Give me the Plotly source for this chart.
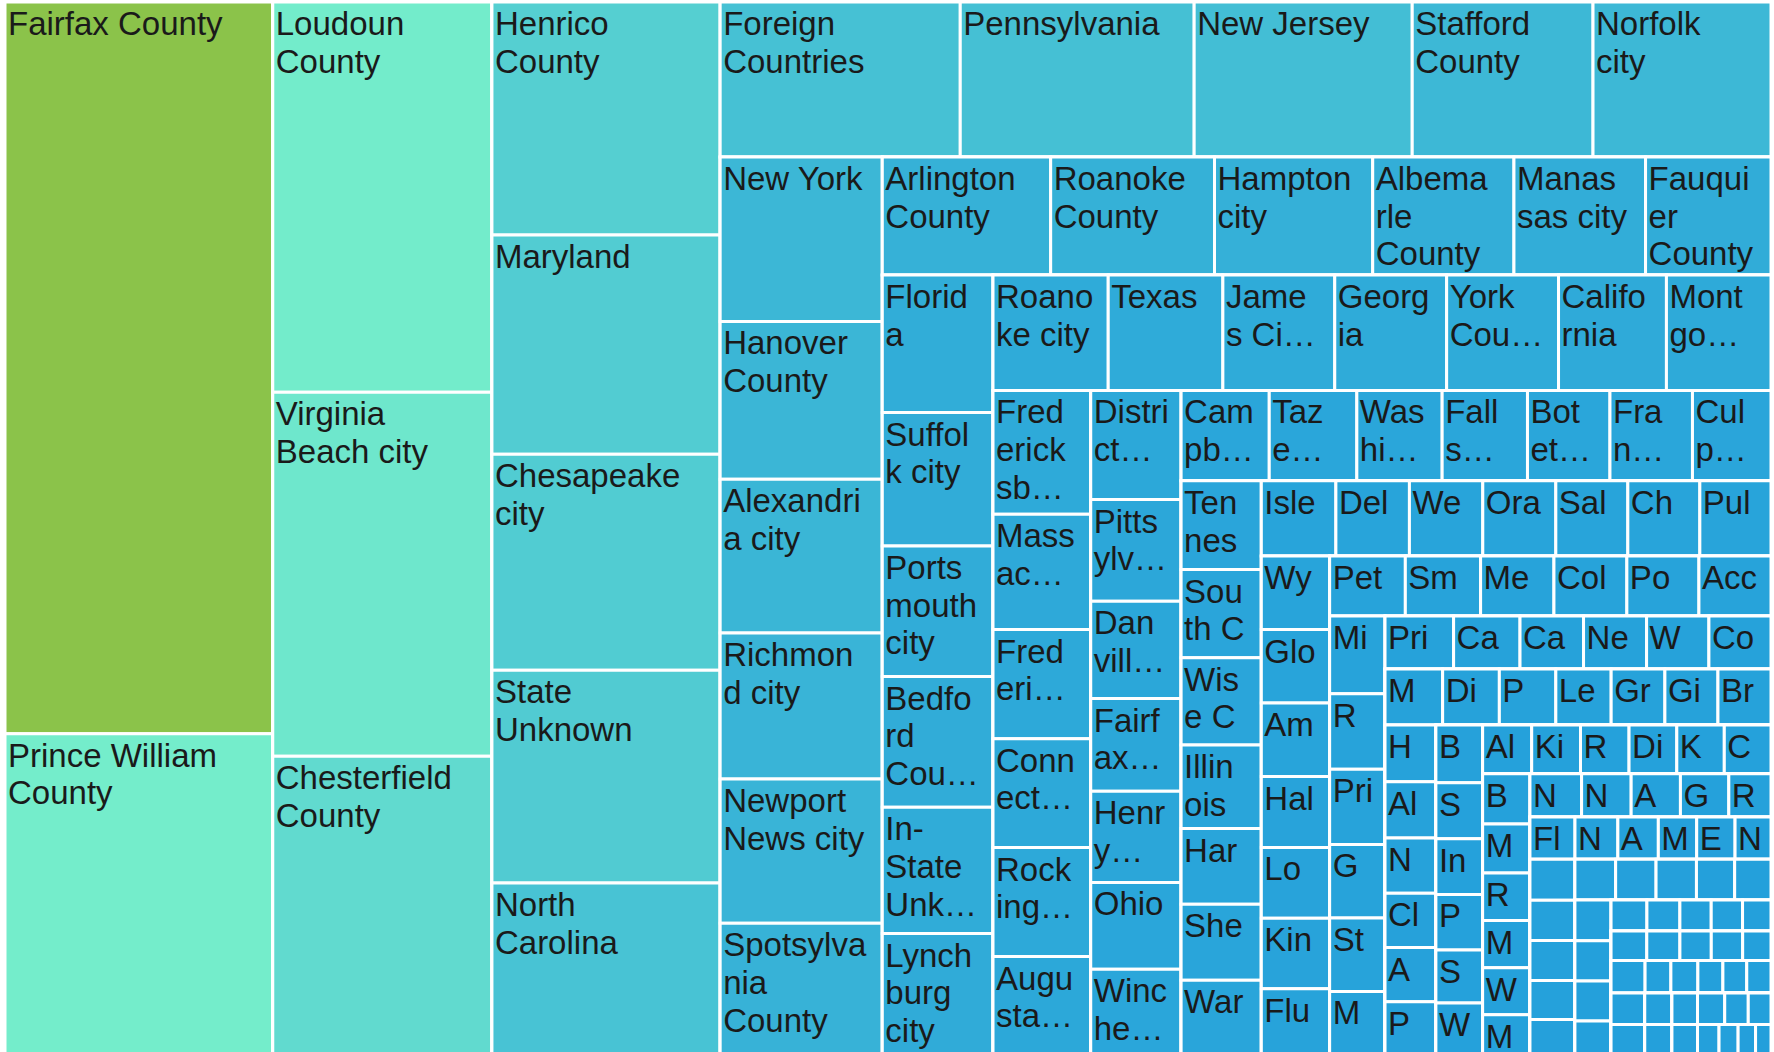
import plotly.graph_objects as go

# ---------------- data (leaf order = reading order of the reference) ----------------
names = [
    "Fairfax County", "Prince William County",
    "Loudoun County", "Virginia Beach city", "Chesterfield County",
    "Henrico County", "Maryland", "Chesapeake city", "State Unknown", "North Carolina",
    "Foreign Countries", "Pennsylvania", "New Jersey", "Stafford County", "Norfolk city",
    "New York", "Hanover County", "Alexandria city", "Richmond city", "Newport News city", "Spotsylvania County",
    "Arlington County", "Roanoke County", "Hampton city", "Albemarle County", "Manassas city", "Fauquier County",
    "Florida", "Suffolk city", "Portsmouth city", "Bedford County", "In-State Unknown", "Lynchburg city",
    "Roanoke city", "Texas", "James City County", "Georgia", "York County", "California", "Montgomery County",
    "Fredericksburg city", "Massachusetts", "Frederick County", "Connecticut", "Rockingham County", "Augusta County",
    "District of Columbia", "Pittsylvania County", "Danville city", "Fairfax city", "Henry County", "Ohio", "Winchester city",
    "Campbell County", "Tazewell County", "Washington County", "Falls Church city", "Botetourt County", "Franklin County", "Culpeper County",
    "Tennessee", "South Carolina", "Wise County", "Illinois", "Harrisonburg city", "Shenandoah County", "Warren County",
    "Isle of Wight County", "Delaware", "West Virginia", "Orange County", "Salem city", "Charlottesville city", "Pulaski County",
    "Wythe County", "Gloucester County", "Amherst County", "Halifax County", "Louisa County", "King George County", "Fluvanna County",
    "Petersburg city", "Smyth County", "Mecklenburg County", "Colonial Heights city", "Powhatan County", "Accomack County",
    "Michigan", "Russell County", "Prince George County", "Goochland County", "Staunton city", "Martinsville city",
    "Prince Edward County", "Caroline County", "Carroll County", "New Kent County", "Waynesboro city", "Colorado",
    "Minnesota", "Dinwiddie County", "Page County", "Lee County", "Greene County", "Giles County", "Brunswick County",
    "Hopewell city", "Alabama", "Nelson County", "Clarke County", "Arizona", "Patrick County",
    "Buchanan County", "Southampton County", "Indiana", "Poquoson city", "Scott County", "Wisconsin",
    "Alleghany County", "King William County", "Radford city", "Dickenson County", "Kentucky", "Charlotte County",
    "Buckingham County", "Madison County", "Rockbridge County", "Missouri", "Washington", "Middlesex County",
    "Northumberland County", "Nottoway County", "Appomattox County", "Greensville County", "Rappahannock County",
    "Floyd County", "Nevada", "Amelia County", "Manassas Park city", "Essex County", "New Mexico",
    "Lancaster County", "Lunenburg County", "Louisiana", "Oregon", "Oklahoma",
    "Bath County", "Bland County", "Craig County", "Cumberland County", "Emporia city",
    "Galax city", "Grayson County", "Highland County", "King and Queen County",
    "Lexington city", "Norton city", "Northampton County", "Richmond County", "Surry County",
    "Sussex County", "Buena Vista city", "Covington city", "Charles City County", "Bristol city",
    "Franklin city", "Iowa", "Kansas", "Utah", "Hawaii", "Alaska",
    "Nebraska", "Arkansas",
    "Idaho", "Montana",
    "Wyoming", "Vermont",
    "Rhode Island", "North Dakota", "South Dakota",
    "Puerto Rico", "Guam", "Virgin Islands", "Armed Forces",
]

counts = [
    15334, 6755,
    6693, 6247, 5141,
    4161, 3919, 3858, 3798, 3091,
    2911, 2836, 2644, 2192, 2158,
    2088, 2002, 1952, 1851, 1830, 1686,
    1557, 1515, 1463, 1306, 1217, 1160,
    1191, 1156, 1132, 1132, 1095, 1061,
    1040, 1035, 1010, 1010, 1010, 974, 944,
    947, 882, 835, 833, 833, 761,
    772, 720, 688, 656, 644, 614, 614,
    624, 620, 604, 604, 584, 584, 556,
    557, 554, 547, 525, 476, 476, 476,
    439, 433, 432, 430, 424, 424, 419,
    393, 393, 393, 379, 378, 377, 360,
    355, 353, 344, 342, 338, 338,
    337, 327, 326, 319, 318, 280,
    285, 276, 264, 262, 259, 258,
    252, 248, 247, 242, 235, 232, 232,
    226, 224, 220, 216, 216, 216,
    211, 205, 204, 203, 194, 194,
    187, 186, 185, 182, 181, 178,
    186, 182, 176, 175, 174, 153,
    175, 168, 167, 164, 143,
    149, 142, 134, 127, 127, 119,
    144, 142, 140, 138, 128,
    130, 129, 129, 122, 116,
    115, 114, 113, 99,
    87, 80, 76, 76, 69,
    82, 76, 72, 72, 65,
    87, 66, 69, 64, 61, 62,
    83, 83,
    67, 67,
    63, 63,
    67, 58, 56,
    53, 47, 43, 38,
]

label_text = [
    "Fairfax County", "Prince William<br>County",
    "Loudoun<br>County", "Virginia<br>Beach city", "Chesterfield<br>County",
    "Henrico<br>County", "Maryland", "Chesapeake<br>city", "State<br>Unknown", "North<br>Carolina",
    "Foreign<br>Countries", "Pennsylvania", "New Jersey", "Stafford<br>County", "Norfolk<br>city",
    "New York", "Hanover<br>County", "Alexandri<br>a city", "Richmon<br>d city", "Newport<br>News city", "Spotsylva<br>nia<br>County",
    "Arlington<br>County", "Roanoke<br>County", "Hampton<br>city", "Albema<br>rle<br>County", "Manas<br>sas city", "Fauqui<br>er<br>County",
    "Florid<br>a", "Suffol<br>k city", "Ports<br>mouth<br>city", "Bedfo<br>rd<br>Cou…", "In-<br>State<br>Unk…", "Lynch<br>burg<br>city",
    "Roano<br>ke city", "Texas", "Jame<br>s Ci…", "Georg<br>ia", "York<br>Cou…", "Califo<br>rnia", "Mont<br>go…",
    "Fred<br>erick<br>sb…", "Mass<br>ac…", "Fred<br>eri…", "Conn<br>ect…", "Rock<br>ing…", "Augu<br>sta…",
    "Distri<br>ct…", "Pitts<br>ylv…", "Dan<br>vill…", "Fairf<br>ax…", "Henr<br>y…", "Ohio", "Winc<br>he…",
    "Cam<br>pb…", "Taz<br>e…", "Was<br>hi…", "Fall<br>s…", "Bot<br>et…", "Fra<br>n…", "Cul<br>p…",
    "Ten<br>nes", "Sou<br>th C", "Wis<br>e C", "Illin<br>ois", "Har", "She", "War",
    "Isle", "Del", "We", "Ora", "Sal", "Ch", "Pul",
    "Wy", "Glo", "Am", "Hal", "Lo", "Kin", "Flu",
    "Pet", "Sm", "Me", "Col", "Po", "Acc",
    "Mi", "R", "Pri", "G", "St", "M",
    "Pri", "Ca", "Ca", "Ne", "W", "Co",
    "M", "Di", "P", "Le", "Gr", "Gi", "Br",
    "H", "Al", "N", "Cl", "A", "P",
    "B", "S", "In", "P", "S", "W",
    "Al", "Ki", "R", "Di", "K", "C",
    "B", "M", "R", "M", "W", "M",
    "N", "N", "A", "G", "R",
    "Fl", "N", "A", "M", "E", "N",
] + [""] * 43

# ---------------- grouping of leaves into strips (count per strip, orientation) ----------------
strip_sizes = [2, 3, 5, 5, 6, 6, 6, 7, 6, 7, 7, 7, 7, 7, 6, 6, 6, 7, 6, 6, 6, 6, 5, 6,
               5, 5, 4, 5, 5, 6, 2, 2, 2, 3, 4]
strip_dirs = ["col", "col", "col", "row", "col", "row", "col", "row", "col", "col", "row", "col",
              "row", "col", "row", "col", "row", "row", "col", "col", "row", "col", "row", "row",
              "col", "row", "col", "row", "row", "row", "col", "col", "col", "row", "row"]

GLYPH_PX = 33  # glyph size of the labels; base font size below only sets line spacing


def styled(t):
    if not t:
        return ""
    return "<br>".join(f"<span style='font-size:{GLYPH_PX}px'>{ln}</span>" for ln in t.split("<br>"))


# ---------------- build hierarchy ----------------
ids, parents, labels, vals, texts, cvals = [], [], [], [], [], []


def add(node_id, parent, label, value, text, cval):
    ids.append(node_id)
    parents.append(parent)
    labels.append(label)
    vals.append(value)
    texts.append(text)
    cvals.append(cval)


add("root", "", " ", 0, "", 0)
cur, depth, pos = "root", 0, 0
for k, (n, d) in enumerate(zip(strip_sizes, strip_dirs)):
    want_even = (d == "col")
    if (depth % 2 == 0) != want_even:
        w = f"wrap{k}"
        add(w, cur, " ", 0, "", 0)
        cur, depth = w, depth + 1
    s = f"strip{k}"
    add(s, cur, " ", 0, "", 0)
    for j in range(pos, pos + n):
        add(names[j], s, names[j], counts[j], styled(label_text[j]), counts[j])
    pos += n
    if k < len(strip_sizes) - 1:
        r = f"rest{k}"
        add(r, cur, " ", 0, "", 0)
        cur, depth = r, depth + 1

fig = go.Figure(go.Treemap(
    ids=ids, parents=parents, labels=labels, values=vals,
    branchvalues="remainder", sort=False,
    text=texts, textinfo="text", textposition="top left",
    textfont=dict(family="Liberation Sans, Arial, sans-serif", size=29, color="#1a1a1a"),
    marker=dict(
        colors=cvals,
        colorscale=[[0, "#239FDB"], [0.44, "#74EDCB"], [1, "#8BC34A"]],
        cmin=0, cmax=max(counts), showscale=False,
        line=dict(color="white", width=3),
        pad=dict(t=0, l=0, r=0, b=0),
    ),
    tiling=dict(packing="slice-dice", pad=0),
    pathbar=dict(visible=False),
    hovertemplate="%{label}: %{value}<extra></extra>",
))

fig.update_layout(
    width=1774, height=1056,
    margin=dict(l=5, r=3, t=2, b=0),
    paper_bgcolor="white",
    uniformtext=dict(minsize=29, mode="show"),
)

fig.write_html(
    "out.html",
    config={"displayModeBar": False},
    post_script="document.body.style.margin='0';document.body.style.overflow='hidden';"
                "document.documentElement.style.overflow='hidden';",
)
